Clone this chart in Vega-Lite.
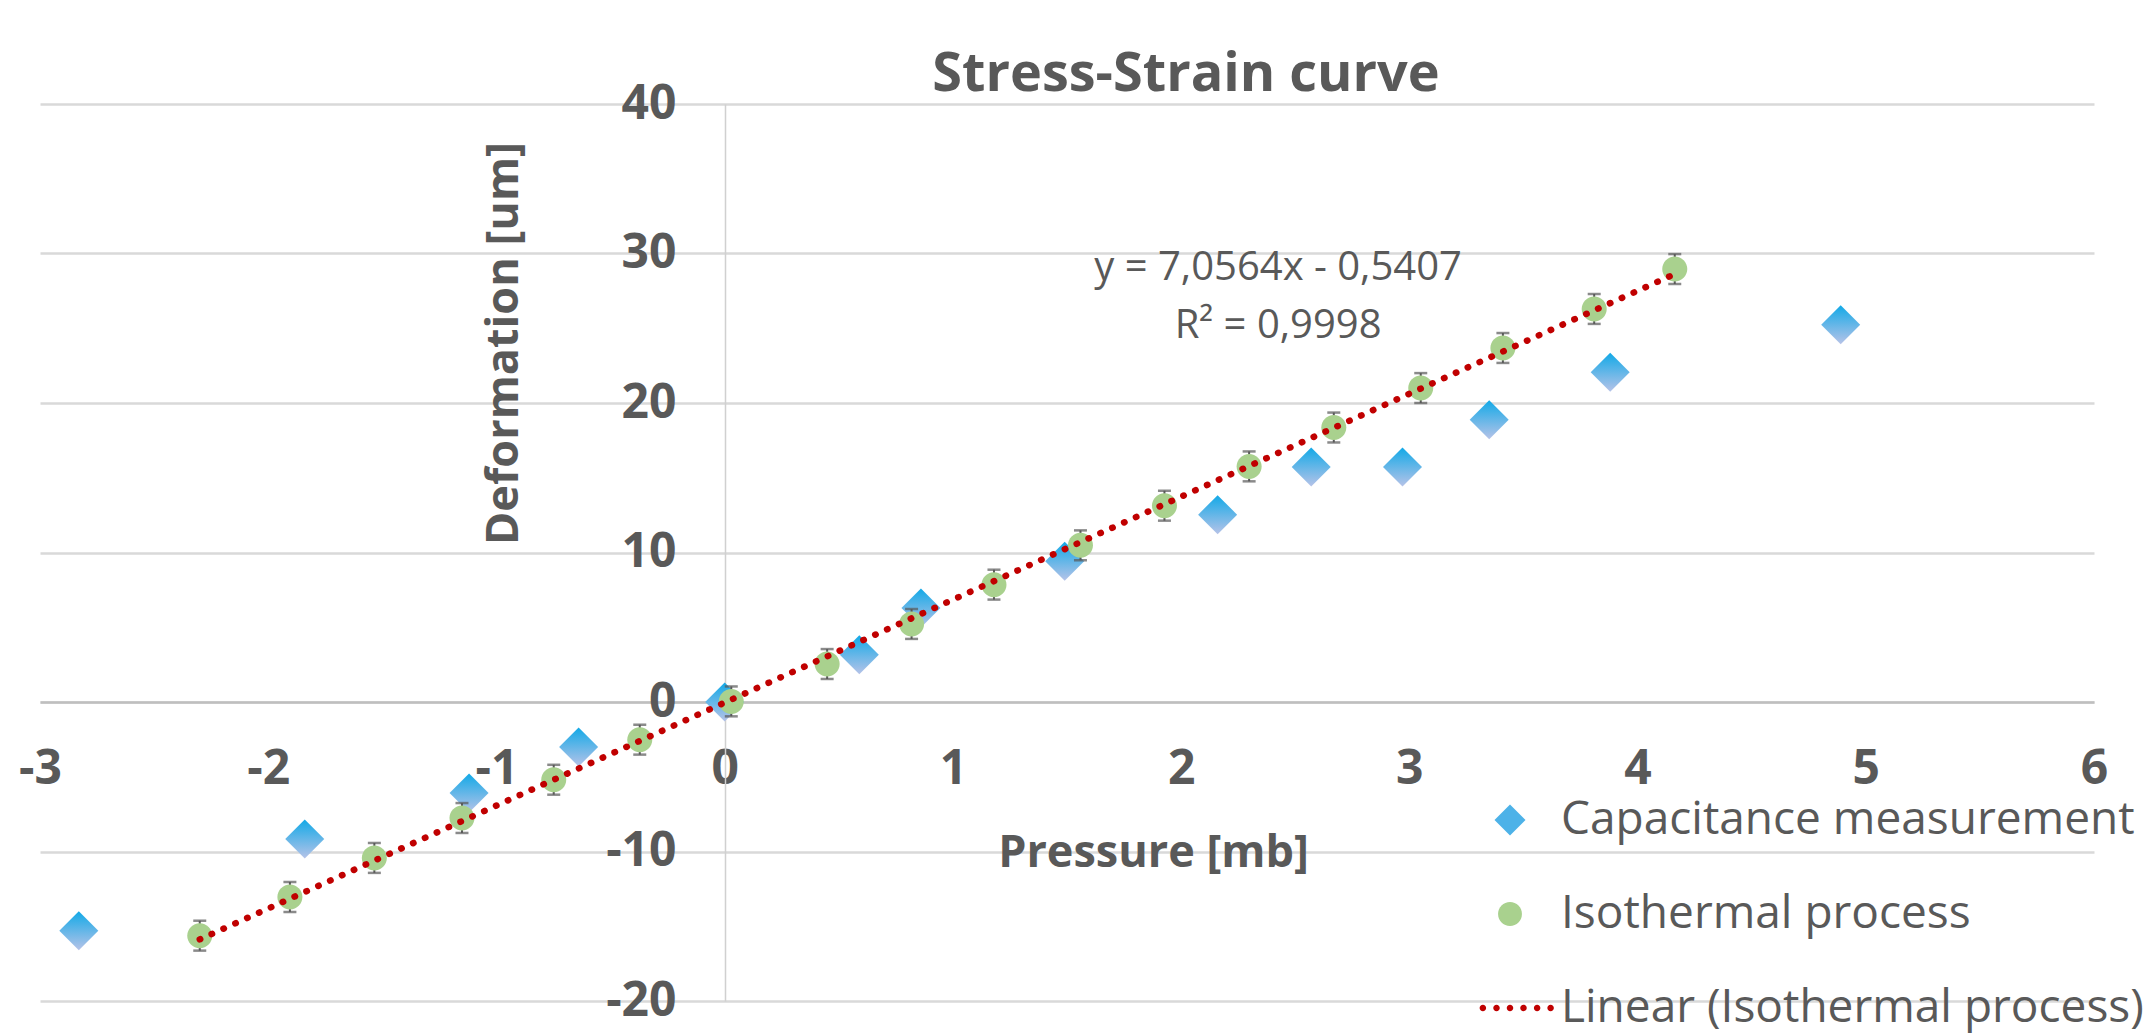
{
  "$schema": "https://vega.github.io/schema/vega-lite/v6.json",
  "width": 2054,
  "height": 897,
  "autosize": {"type": "none"},
  "padding": {"left": 40, "top": 104, "right": 53, "bottom": 33},
  "background": "white",
  "title": {
    "text": "Stress-Strain curve",
    "frame": "group",
    "anchor": "middle",
    "dx": 119,
    "dy": 68,
    "font": "Open Sans",
    "fontSize": 54,
    "fontWeight": "bold",
    "color": "#595959",
    "baseline": "alphabetic",
    "offset": 3
  },
  "datasets": {
    "cap": [
      {"series": "Capacitance measurement", "x": -2.83, "y": -15.3},
      {"series": "Capacitance measurement", "x": -1.84, "y": -9.17},
      {"series": "Capacitance measurement", "x": -1.12, "y": -6.09},
      {"series": "Capacitance measurement", "x": -0.64, "y": -3.01},
      {"series": "Capacitance measurement", "x": 0, "y": 0},
      {"series": "Capacitance measurement", "x": 0.59, "y": 3.16},
      {"series": "Capacitance measurement", "x": 0.86, "y": 6.29},
      {"series": "Capacitance measurement", "x": 1.49, "y": 9.41},
      {"series": "Capacitance measurement", "x": 2.16, "y": 12.53},
      {"series": "Capacitance measurement", "x": 2.57, "y": 15.72},
      {"series": "Capacitance measurement", "x": 2.97, "y": 15.72},
      {"series": "Capacitance measurement", "x": 3.35, "y": 18.88},
      {"series": "Capacitance measurement", "x": 3.88, "y": 22.05},
      {"series": "Capacitance measurement", "x": 4.89, "y": 25.24}
    ],
    "iso": [
      {"series": "Isothermal process", "x": -2.3, "y": -15.63, "err": 1},
      {"series": "Isothermal process", "x": -1.905, "y": -13.04, "err": 1},
      {"series": "Isothermal process", "x": -1.535, "y": -10.43, "err": 1},
      {"series": "Isothermal process", "x": -1.151, "y": -7.76, "err": 1},
      {"series": "Isothermal process", "x": -0.749, "y": -5.2, "err": 1},
      {"series": "Isothermal process", "x": -0.372, "y": -2.52, "err": 1},
      {"series": "Isothermal process", "x": 0.029, "y": 0.04, "err": 1},
      {"series": "Isothermal process", "x": 0.449, "y": 2.54, "err": 1},
      {"series": "Isothermal process", "x": 0.819, "y": 5.22, "err": 1},
      {"series": "Isothermal process", "x": 1.18, "y": 7.85, "err": 1},
      {"series": "Isothermal process", "x": 1.559, "y": 10.48, "err": 1},
      {"series": "Isothermal process", "x": 1.927, "y": 13.13, "err": 1},
      {"series": "Isothermal process", "x": 2.298, "y": 15.76, "err": 1},
      {"series": "Isothermal process", "x": 2.669, "y": 18.36, "err": 1},
      {"series": "Isothermal process", "x": 3.05, "y": 21.0, "err": 1},
      {"series": "Isothermal process", "x": 3.41, "y": 23.68, "err": 1},
      {"series": "Isothermal process", "x": 3.81, "y": 26.29, "err": 1},
      {"series": "Isothermal process", "x": 4.163, "y": 28.96, "err": 1}
    ],
    "eq": [
      {"x": 2.425, "y": 29.0, "label": "y = 7,0564x - 0,5407"},
      {"x": 2.425, "y": 25.13, "label": "R² = 0,9998"}
    ]
  },
  "encoding": {
    "x": {
      "field": "x",
      "type": "quantitative",
      "scale": {"domain": [-3, 6], "nice": false, "zero": false},
      "axis": {
        "title": "Pressure [mb]",
        "values": [-3, -2, -1, 0, 1, 2, 3, 4, 5, 6],
        "labelExpr": "'' + datum.value",
        "offset": -299,
        "grid": false,
        "ticks": false,
        "tickSize": 0,
        "domainColor": "#BFBFBF",
        "domainWidth": 2.5,
        "labelFont": "Open Sans",
        "labelFontSize": 48,
        "labelFontWeight": "bold",
        "labelColor": "#595959",
        "labelPadding": 43,
        "labelFlush": false,
        "labelOverlap": false,
        "titleFont": "Open Sans",
        "titleFontSize": 45,
        "titleFontWeight": "bold",
        "titleColor": "#595959",
        "titleX": 1113,
        "titleY": 150,
        "titleAlign": "center",
        "titleBaseline": "middle"
      }
    },
    "y": {
      "field": "y",
      "type": "quantitative",
      "scale": {"domain": [-20, 40], "nice": false, "zero": false},
      "axis": {
        "title": "Deformation [um]",
        "values": [-20, -10, 0, 10, 20, 30, 40],
        "labelExpr": "'' + datum.value",
        "offset": -685,
        "grid": true,
        "gridColor": "#D9D9D9",
        "gridWidth": 2.5,
        "ticks": false,
        "tickSize": 0,
        "domainColor": "#D0D0D0",
        "domainWidth": 1.5,
        "labelFont": "Open Sans",
        "labelFontSize": 48,
        "labelFontWeight": "bold",
        "labelColor": "#595959",
        "labelPadding": 49,
        "labelFlush": false,
        "labelOverlap": false,
        "titleFont": "Open Sans",
        "titleFontSize": 45,
        "titleFontWeight": "bold",
        "titleColor": "#595959",
        "titleAngle": 270,
        "titleX": -222,
        "titleY": 239,
        "titleAlign": "center",
        "titleBaseline": "middle"
      }
    }
  },
  "layer": [
    {
      "data": {"name": "cap"},
      "mark": {
        "type": "point",
        "shape": "diamond",
        "filled": true,
        "opacity": 1,
        "size": 1521,
        "strokeWidth": 0,
        "fill": {
          "gradient": "linear",
          "x1": 0, "y1": 0, "x2": 0, "y2": 1,
          "stops": [
            {"offset": 0, "color": "#12A9E7"},
            {"offset": 1, "color": "#B6C3E8"}
          ]
        }
      },
      "encoding": {}
    },
    {
      "data": {"name": "iso"},
      "mark": {
        "type": "errorbar",
        "color": "#595959",
        "rule": {"strokeWidth": 2},
        "ticks": {"size": 13, "thickness": 2.5, "color": "#595959"}
      },
      "encoding": {
        "yError": {"field": "err"}
      }
    },
    {
      "data": {"name": "iso"},
      "mark": {
        "type": "point",
        "filled": true,
        "opacity": 1,
        "size": 1056,
        "strokeWidth": 0
      },
      "encoding": {
        "color": {
          "field": "series",
          "type": "nominal",
          "scale": {
            "domain": ["Capacitance measurement", "Isothermal process", "Linear (Isothermal process)"],
            "range": ["#4DB2E8", "#A9D18E", "#C00000"]
          },
          "legend": {
            "title": null,
            "orient": "none",
            "legendX": 1447,
            "legendY": 693,
            "padding": 0,
            "labelFont": "Open Sans",
            "labelFontSize": 46,
            "labelColor": "#595959",
            "labelLimit": 1000,
            "labelOffset": 28,
            "rowPadding": 48,
            "symbolSize": 961,
            "symbolStrokeWidth": 0,
            "symbolOpacity": 1
          }
        },
        "shape": {
          "field": "series",
          "type": "nominal",
          "scale": {
            "domain": ["Capacitance measurement", "Isothermal process", "Linear (Isothermal process)"],
            "range": [
              "diamond",
              "M-0.77,0A0.77,0.77,0,1,0,0.77,0A0.77,0.77,0,1,0,-0.77,0Z",
              "M-1.96,0a0.21,0.21 0 1,0 0.42,0a0.21,0.21 0 1,0 -0.42,0Z M-1.08,0a0.21,0.21 0 1,0 0.42,0a0.21,0.21 0 1,0 -0.42,0Z M-0.21,0a0.21,0.21 0 1,0 0.42,0a0.21,0.21 0 1,0 -0.42,0Z M0.66,0a0.21,0.21 0 1,0 0.42,0a0.21,0.21 0 1,0 -0.42,0Z M1.54,0a0.21,0.21 0 1,0 0.42,0a0.21,0.21 0 1,0 -0.42,0Z M2.41,0a0.21,0.21 0 1,0 0.42,0a0.21,0.21 0 1,0 -0.42,0Z"
            ]
          },
          "legend": {
            "title": null,
            "orient": "none",
            "legendX": 1447,
            "legendY": 693,
            "padding": 0,
            "labelFont": "Open Sans",
            "labelFontSize": 46,
            "labelColor": "#595959",
            "labelLimit": 1000,
            "labelOffset": 28,
            "rowPadding": 48,
            "symbolSize": 961,
            "symbolStrokeWidth": 0,
            "symbolOpacity": 1
          }
        }
      }
    },
    {
      "data": {"name": "iso"},
      "transform": [{"regression": "y", "on": "x"}],
      "mark": {
        "type": "line",
        "color": "#C00000",
        "strokeWidth": 6.5,
        "strokeDash": [0.5, 12.5],
        "strokeCap": "round"
      },
      "encoding": {}
    },
    {
      "data": {"name": "eq"},
      "mark": {
        "type": "text",
        "font": "Open Sans",
        "fontSize": 40,
        "color": "#595959",
        "align": "center",
        "baseline": "middle"
      },
      "encoding": {
        "text": {"field": "label"}
      }
    }
  ],
  "config": {
    "view": {"stroke": null},
    "font": "Open Sans"
  }
}
